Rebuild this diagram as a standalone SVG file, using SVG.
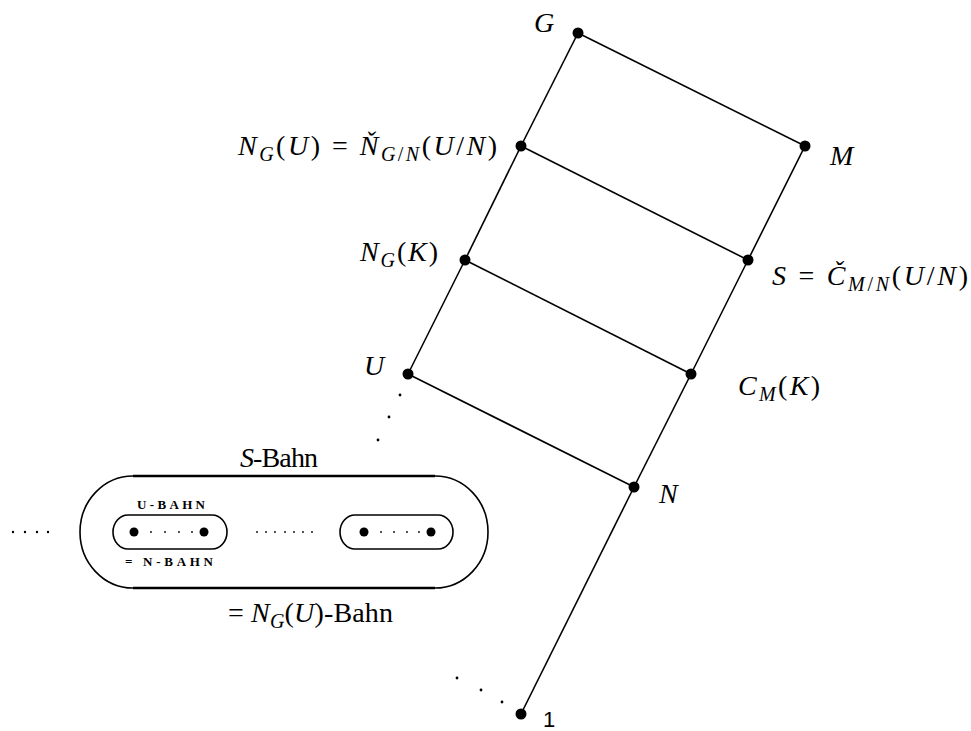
<svg xmlns="http://www.w3.org/2000/svg" width="971" height="731" viewBox="0 0 971 731">
<style>
.e{stroke:#000;stroke-width:1.6;fill:none}
.n{fill:#000}
.d{fill:#000}
.t{font-family:"Liberation Serif",serif;font-size:28px;fill:#000}
.i{font-style:italic}
.s{font-size:20px}
.sc{font-family:"Liberation Serif",serif;font-size:13px;font-weight:bold;fill:#000}
.arc{stroke:#000;stroke-width:1.6;fill:none}
.bar{stroke:#000;stroke-width:2.6;fill:none}
</style>
<g id="connectors">
<line class="e" x1="578" y1="33" x2="521" y2="146"/>
<line class="e" x1="521" y1="146" x2="465" y2="260"/>
<line class="e" x1="465" y1="260" x2="408" y2="374"/>
<line class="e" x1="578" y1="33" x2="805" y2="146"/>
<line class="e" x1="521" y1="146" x2="748" y2="260"/>
<line class="e" x1="465" y1="260" x2="691" y2="374"/>
<line class="e" x1="408" y1="374" x2="634" y2="487"/>
<line class="e" x1="805" y1="146" x2="748" y2="260"/>
<line class="e" x1="748" y1="260" x2="691" y2="374"/>
<line class="e" x1="691" y1="374" x2="634" y2="487"/>
<line class="e" x1="634" y1="487" x2="521" y2="714"/>
</g>
<g id="node-G"><circle class="n" cx="578" cy="33" r="5.5"/><text class="t i" x="534" y="32">G</text></g>
<g id="node-NGU"><circle class="n" cx="521" cy="146" r="5.5"/>
<text class="t" x="238" y="155" textLength="259" lengthAdjust="spacing"><tspan class="i">N</tspan><tspan class="i s" dy="6">G</tspan><tspan dy="-6">(</tspan><tspan class="i">U</tspan>) = <tspan class="i">Ň</tspan><tspan class="i s" dy="6">G</tspan><tspan class="s">/</tspan><tspan class="i s">N</tspan><tspan dy="-6">(</tspan><tspan class="i">U</tspan>/<tspan class="i">N</tspan>)</text></g>
<g id="node-NGK"><circle class="n" cx="465" cy="260" r="5.5"/>
<text class="t" x="360" y="261" textLength="78" lengthAdjust="spacing"><tspan class="i">N</tspan><tspan class="i s" dy="6">G</tspan><tspan dy="-6">(</tspan><tspan class="i">K</tspan>)</text></g>
<g id="node-U"><circle class="n" cx="408" cy="374" r="5.5"/><text class="t i" x="364" y="375">U</text>
<circle class="d" cx="400" cy="395" r="1.4"/><circle class="d" cx="389" cy="417" r="1.4"/><circle class="d" cx="378" cy="440" r="1.4"/></g>
<g id="node-M"><circle class="n" cx="805" cy="146" r="5.5"/><text class="t i" x="830" y="165">M</text></g>
<g id="node-S"><circle class="n" cx="748" cy="260" r="5.5"/>
<text class="t" x="772" y="285" textLength="196" lengthAdjust="spacing"><tspan class="i">S</tspan> = <tspan class="i">Č</tspan><tspan class="i s" dy="6">M</tspan><tspan class="s">/</tspan><tspan class="i s">N</tspan><tspan dy="-6">(</tspan><tspan class="i">U</tspan>/<tspan class="i">N</tspan>)</text></g>
<g id="node-CMK"><circle class="n" cx="691" cy="374" r="5.5"/>
<text class="t" x="738" y="395" textLength="82" lengthAdjust="spacing"><tspan class="i">C</tspan><tspan class="i s" dy="6">M</tspan><tspan dy="-6">(</tspan><tspan class="i">K</tspan>)</text></g>
<g id="node-N"><circle class="n" cx="634" cy="487" r="5.5"/><text class="t i" x="659" y="503">N</text></g>
<g id="node-1"><circle class="n" cx="521" cy="714" r="5.5"/><text x="543" y="727" style="font-family:'Liberation Sans',sans-serif;font-size:22px;fill:#000">1</text>
<circle class="d" cx="457" cy="678" r="1.4"/><circle class="d" cx="481" cy="690" r="1.4"/><circle class="d" cx="502" cy="702" r="1.4"/></g>
<g id="orbits">
<text class="t" x="240" y="467" textLength="78" lengthAdjust="spacing"><tspan class="i">S</tspan>-Bahn</text>
<line class="bar" x1="133" y1="476" x2="435" y2="476"/>
<line class="bar" x1="133" y1="588" x2="435" y2="588"/>
<path class="arc" d="M435,476 A53,56 0 0 1 435,588"/>
<path class="arc" d="M133,588 A53,56 0 0 1 133,476"/>
<text class="t" x="228" y="622" textLength="165" lengthAdjust="spacing">= <tspan class="i">N</tspan><tspan class="i s" dy="6">G</tspan><tspan dy="-6">(</tspan><tspan class="i">U</tspan>)-Bahn</text>
<g fill="#000"><circle cx="13" cy="532" r="1.2"/><circle cx="25" cy="532" r="1.2"/><circle cx="37" cy="532" r="1.2"/><circle cx="48" cy="532" r="1.2"/></g>
<text class="sc" x="137" y="509" textLength="68" lengthAdjust="spacing">U-BAHN</text>
<text class="sc" x="125" y="566" textLength="88" lengthAdjust="spacing">= N-BAHN</text>
<path class="arc" d="M128,515 L212,515 A15,17 0 0 1 212,549 L128,549 A15,17 0 0 1 128,515 Z"/>
<circle class="n" cx="134" cy="532" r="4.5"/><circle class="n" cx="204" cy="532" r="4.5"/>
<g fill="#000"><circle cx="151" cy="532" r="0.9"/><circle cx="165" cy="532" r="0.9"/><circle cx="179" cy="532" r="0.9"/><circle cx="192" cy="532" r="0.9"/></g>
<g fill="#000"><circle cx="257" cy="532" r="0.9"/><circle cx="266" cy="532" r="0.9"/><circle cx="275" cy="532" r="0.9"/><circle cx="285" cy="532" r="0.9"/><circle cx="294" cy="532" r="0.9"/><circle cx="303" cy="532" r="0.9"/><circle cx="312" cy="532" r="0.9"/></g>
<path class="arc" d="M355,515 L438,515 A15,17 0 0 1 438,549 L355,549 A15,17 0 0 1 355,515 Z"/>
<circle class="n" cx="364" cy="532" r="4.5"/><circle class="n" cx="431" cy="532" r="4.5"/>
<g fill="#000"><circle cx="381" cy="532" r="0.9"/><circle cx="394" cy="532" r="0.9"/><circle cx="407" cy="532" r="0.9"/><circle cx="419" cy="532" r="0.9"/></g>
</g>
</svg>
